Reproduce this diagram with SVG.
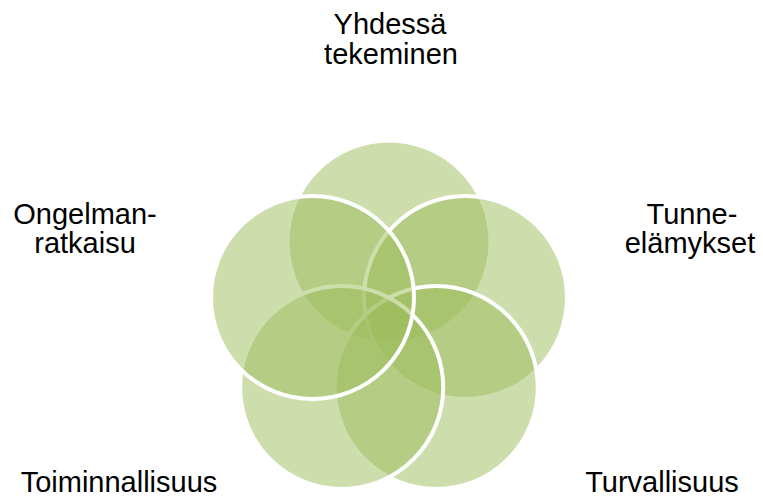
<svg xmlns="http://www.w3.org/2000/svg" width="763" height="497" viewBox="0 0 763 497">
<style>
.c{fill:rgba(155,187,89,0.5);stroke:#ffffff;stroke-width:4}
.t{font-family:"Liberation Sans",Arial,sans-serif;font-size:29px;fill:#000000;text-anchor:middle}
</style>
<rect width="763" height="497" fill="#ffffff"/>
<g id="node-top"><circle class="c" cx="389" cy="242" r="101.5"/><text class="t" x="390" y="34">Yhdessä</text><text class="t" x="391" y="64">tekeminen</text></g>
<g id="node-right"><circle class="c" cx="465.5" cy="297.6" r="101.5"/><text class="t" x="692" y="224">Tunne-</text><text class="t" x="690" y="253">elämykset</text></g>
<g id="node-bottom-right"><circle class="c" cx="436.3" cy="387.4" r="101.5"/><text class="t" x="662" y="492">Turvallisuus</text></g>
<g id="node-bottom-left"><circle class="c" cx="341.7" cy="387.4" r="101.5"/><text class="t" x="119" y="492">Toiminnallisuus</text></g>
<g id="node-left"><circle class="c" cx="312.5" cy="297.6" r="101.5"/><text class="t" x="85" y="224">Ongelman-</text><text class="t" x="85" y="253">ratkaisu</text></g>
<g id="connectors"></g>
</svg>
